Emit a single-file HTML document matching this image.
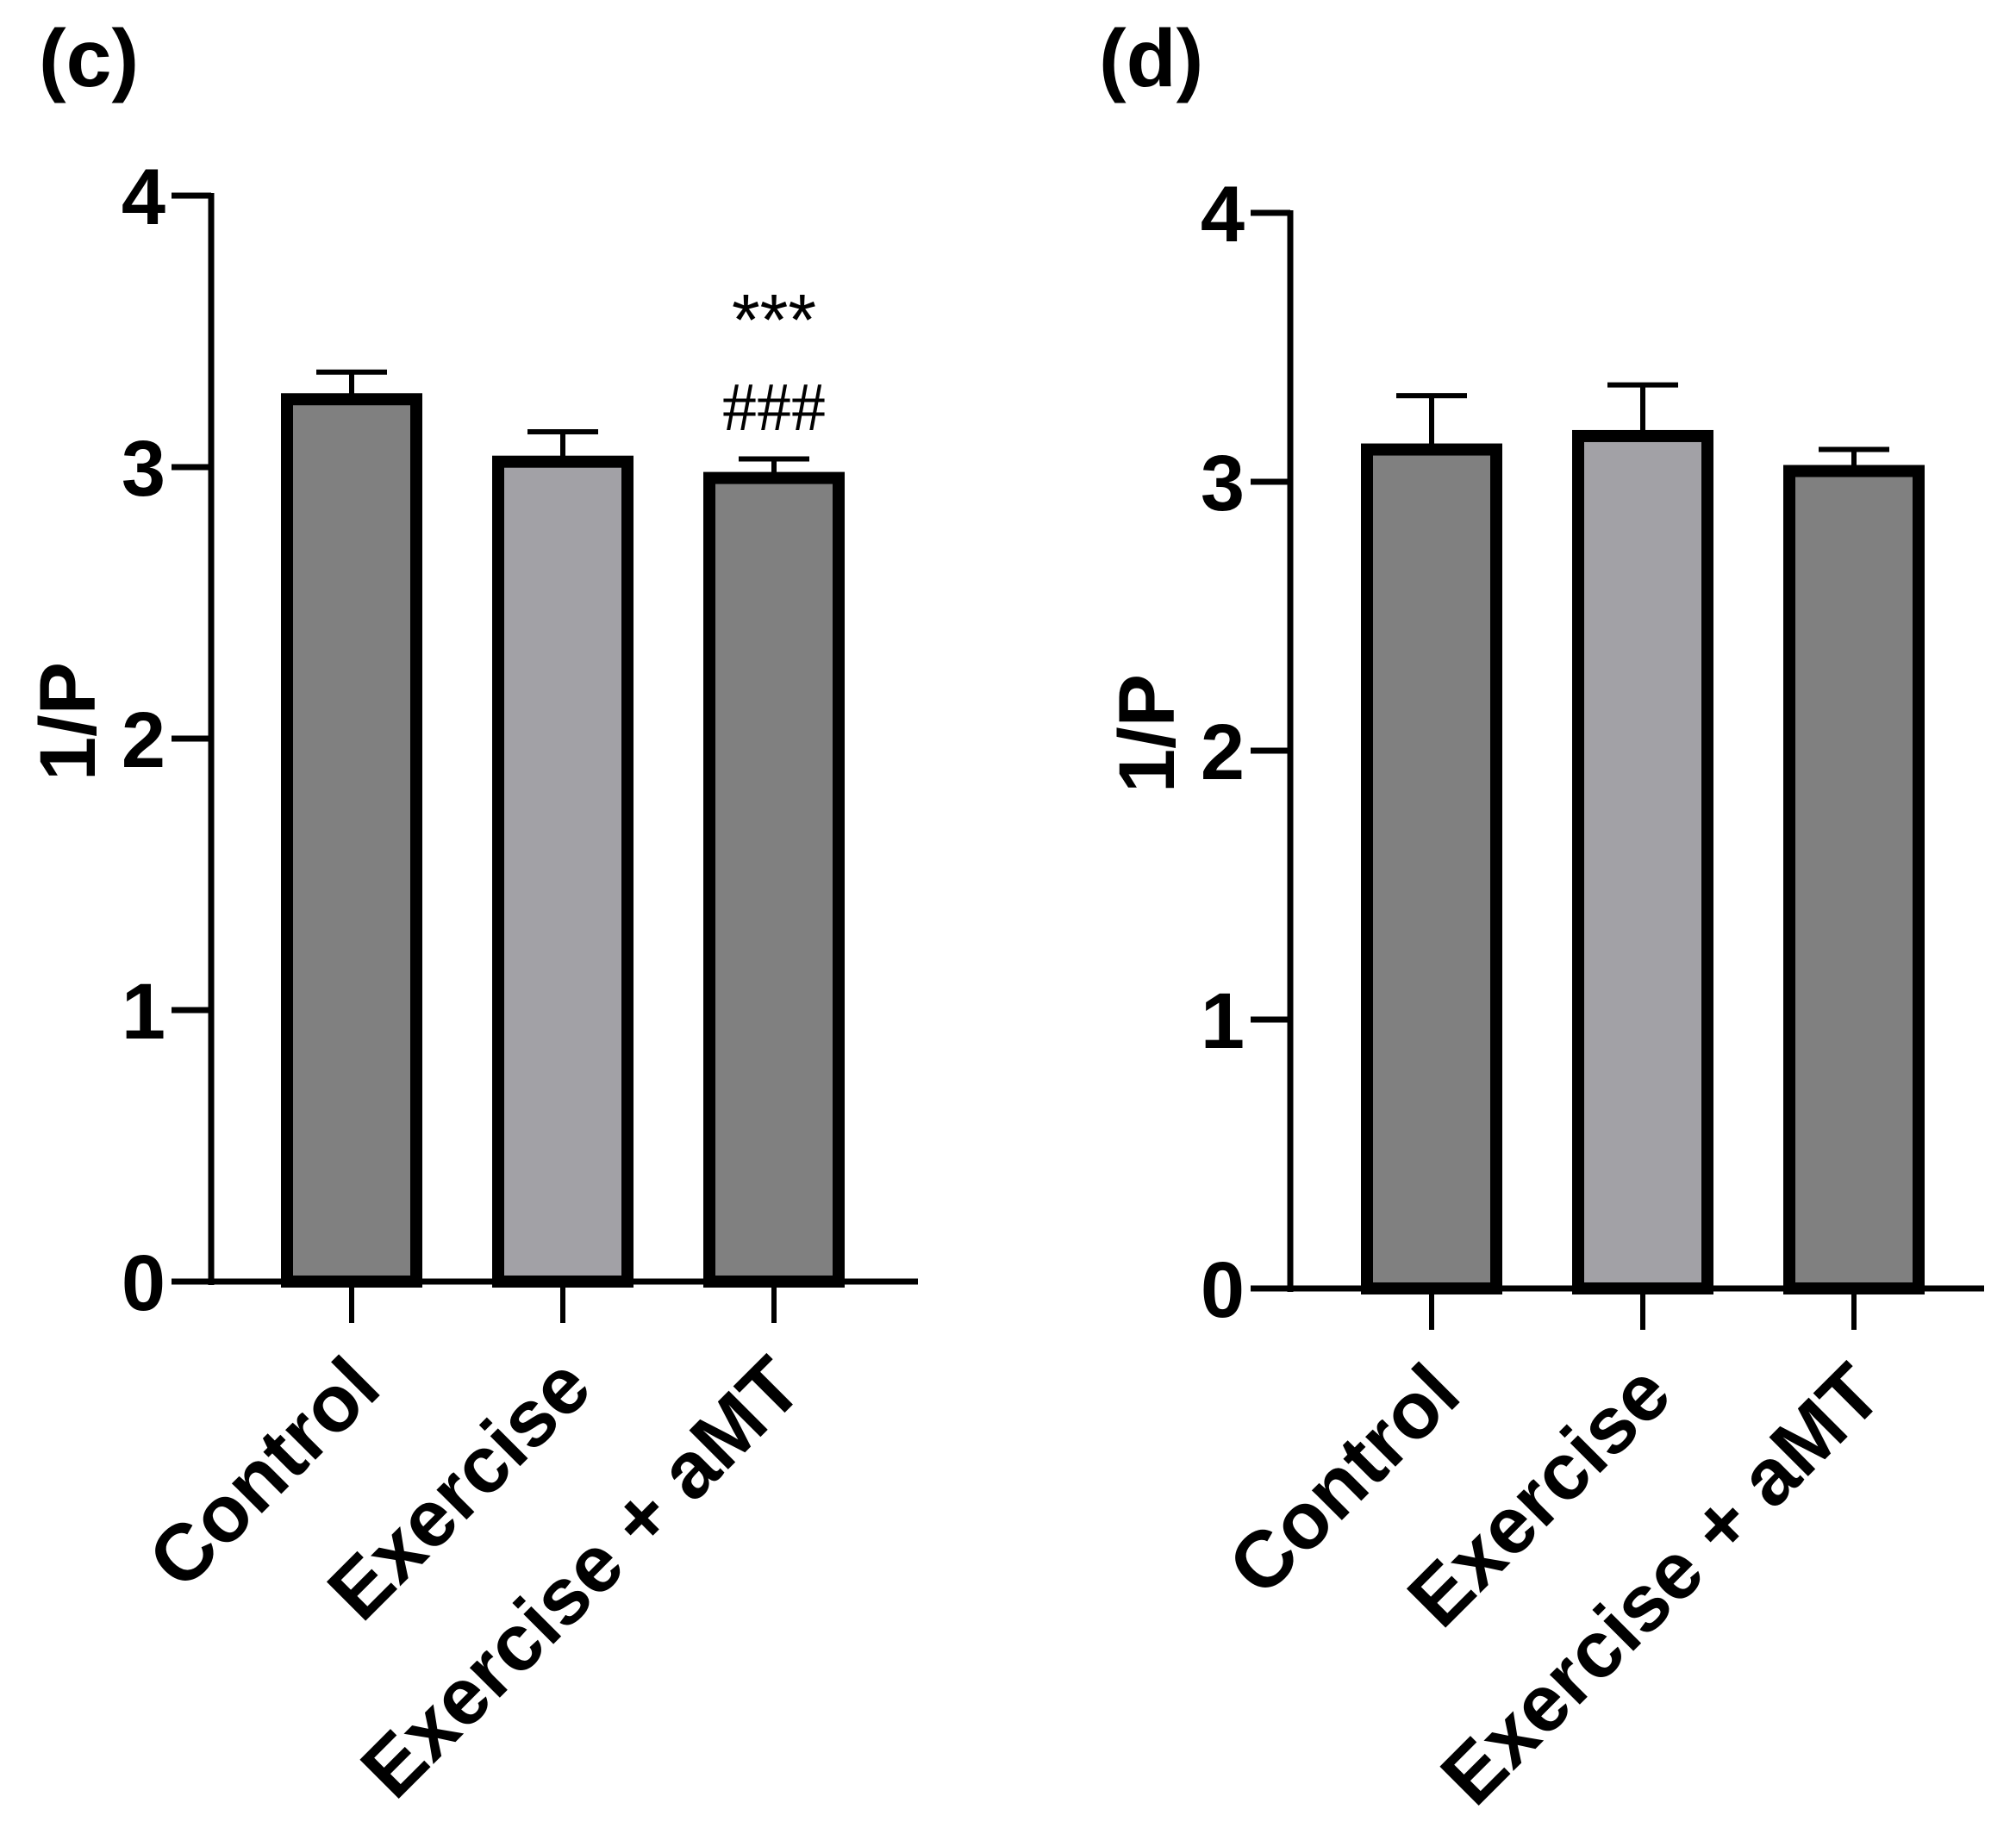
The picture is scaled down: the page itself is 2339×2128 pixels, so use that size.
<!DOCTYPE html>
<html><head><meta charset="utf-8"><style>
html,body{margin:0;padding:0;background:#fff;}
svg{display:block;font-family:"Liberation Sans",Arial,sans-serif;font-weight:bold;}
</style></head><body>
<svg id="fig" width="2339" height="2128" viewBox="0 0 2339 2128"></svg>
<script>
const categories = ["Control", "Exercise", "Exercise + aMT"];
const yTicks = [0, 1, 2, 3, 4];
const valuesC = [3.25, 3.02, 2.96];
const errorsC = [0.10, 0.11, 0.07];
const valuesD = [3.12, 3.17, 3.04];
const errorsD = [0.20, 0.19, 0.08];
const colors = ["#808080", "#a2a1a6", "#808080"];

const svg = document.getElementById('fig');
const NS = 'http://www.w3.org/2000/svg';
function mk(tag, attrs, parent){
  const e = document.createElementNS(NS, tag);
  for (const k in attrs) e.setAttribute(k, attrs[k]);
  (parent||svg).appendChild(e);
  return e;
}

function panel(cfg){
  const g = mk('g', {});
  
  
  const y = v => cfg.y0 - v * cfg.unit;
  const t = mk('text', {x: cfg.titleX, y: 100, 'font-size': 95}, g);
  t.textContent = cfg.title;
  
  
  const yt = mk('text', {x: 0, y: 0, 'font-size': 92, 'text-anchor': 'middle',
    transform: `translate(${cfg.axisX - 135},${(y(0)+y(4))/2 - 20}) rotate(-90)`}, g);
  yt.textContent = '1/P';
  
  
  const ya = mk('line', {x1: cfg.axisX, x2: cfg.axisX, y1: y(4)-3, y2: y(0)+4, stroke: '#000', 'stroke-width': 7}, g);
  
  
  yTicks.forEach(v => {
    const tk = mk('line', {x1: cfg.axisX - 46, x2: cfg.axisX, y1: y(v), y2: y(v), stroke: '#000', 'stroke-width': 7}, g);
    
    
    const tl = mk('text', {x: cfg.axisX - 53, y: y(v) + 33, 'font-size': 92, 'text-anchor': 'end'}, g);
    tl.textContent = String(v);
    
    
  });
  cfg.values.forEach((v, i) => {
    const cx = cfg.centers[i];
    const w = 150;
    const top = y(v);
    const eb = y(v + cfg.errors[i]);
    const stem = mk('line', {x1: cx, x2: cx, y1: top, y2: eb, stroke: '#000', 'stroke-width': 6}, g);
    
    
    const cap = mk('line', {x1: cx - 41, x2: cx + 41, y1: eb, y2: eb, stroke: '#000', 'stroke-width': 6}, g);
    
    
    const r = mk('rect', {x: cx - w/2, y: top, width: w, height: y(0) - top, fill: colors[i], stroke: '#000', 'stroke-width': 14}, g);
    
    
    const tk = mk('line', {x1: cx, x2: cx, y1: y(0), y2: y(0) + 48, stroke: '#000', 'stroke-width': 6}, g);
    
    
    const lab = mk('text', {x: 0, y: 0, 'font-size': 93, 'text-anchor': 'end',
      transform: `translate(${cx - 10},${y(0) + 80}) rotate(-45)`, dy: '0.72em'}, g);
    lab.textContent = categories[i];
    
    
  });
  const xa = mk('line', {x1: cfg.axisX - 46, x2: cfg.xEnd, y1: y(0), y2: y(0), stroke: '#000', 'stroke-width': 7}, g);
  
  
  return {g, y};
}

const pc = panel({name: 'panel-c', title: '(c)', titleX: 45, axisX: 245, y0: 1487, unit: 315,
  centers: [408, 653, 898], values: valuesC, errors: errorsC, xEnd: 1065});
const s1 = mk('text', {x: 898, y: 400, 'font-size': 84, 'text-anchor': 'middle', 'font-weight': 'normal'}, pc.g);
s1.textContent = '***';


const s2 = mk('text', {x: 898, y: 499, 'font-size': 80, 'text-anchor': 'middle', 'font-weight': 'normal', 'font-family': '"Liberation Serif", serif'}, pc.g);
s2.textContent = '###';



panel({name: 'panel-d', title: '(d)', titleX: 1275, axisX: 1497, y0: 1495, unit: 312,
  centers: [1661, 1906, 2151], values: valuesD, errors: errorsD, xEnd: 2302});
</script>
</body></html>
